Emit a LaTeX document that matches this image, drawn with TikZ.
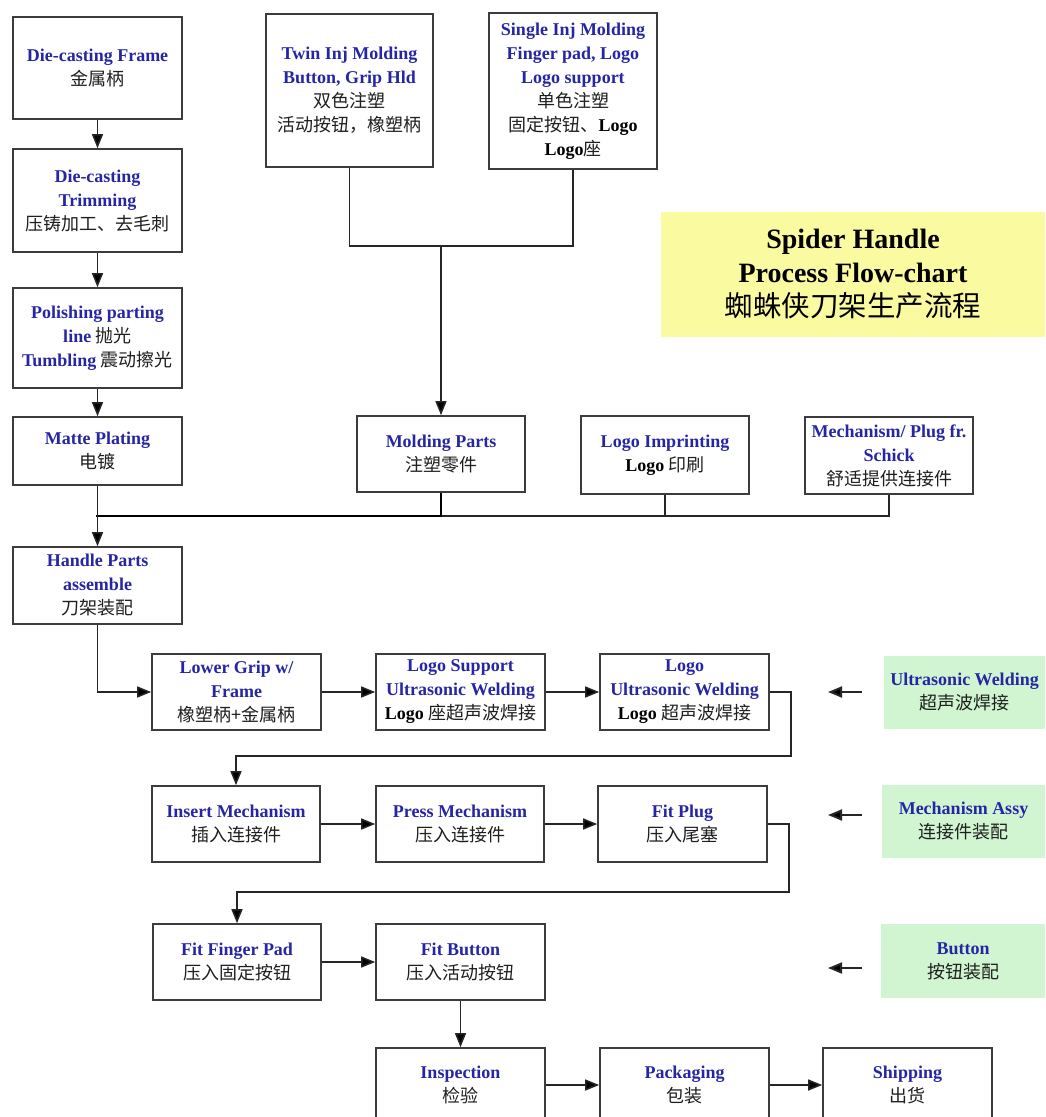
\documentclass[tikz,border=0pt]{standalone}
\usepackage{fontspec}
\setmainfont{Liberation Serif}
\newfontfamily\cjk{Noto Sans CJK SC}
\usetikzlibrary{arrows.meta}
\definecolor{eblue}{RGB}{38,38,165}
\definecolor{boxline}{RGB}{60,60,60}
\definecolor{ylw}{RGB}{250,250,160}
\definecolor{grn}{RGB}{208,245,208}
\newcommand\myen[1]{\textcolor{eblue}{\bfseries #1}}
\newcommand\myzh[1]{{\cjk\color{black!88}#1}}
\newcommand\mybk[1]{{\bfseries #1}}
\tikzset{
  box/.style={draw=boxline, line width=1.6pt, fill=white, align=center, inner sep=0pt,
    font=\fontsize{18}{24}\selectfont},
  gbox/.style={fill=grn, align=center, inner sep=0pt, font=\fontsize{18}{24}\selectfont},
  conn/.style={draw=black!85, line width=1.5pt},
  arr/.style={conn, -{Triangle[length=14pt,width=11pt,fill=black]}},
}
\begin{document}
\begin{tikzpicture}[x=1pt,y=-1pt]
\useasboundingbox (0,0) rectangle (1045,1117);
\clip (0,0) rectangle (1045,1117);
\fill[white] (0,0) rectangle (1045,1117);

% left column
\node[box, minimum width=169pt, minimum height=102pt] (dcf) at (97.5,68) {\myen{Die-casting Frame}\\\myzh{金属柄}};
\node[box, minimum width=169pt, minimum height=103pt] (dct) at (97.5,200.5) {\myen{Die-casting}\\\myen{Trimming}\\\myzh{压铸加工、去毛刺}};
\node[box, minimum width=169pt, minimum height=100pt] (pol) at (97.5,338) {\myen{Polishing parting}\\\myen{line} \myzh{抛光}\\\myen{Tumbling} \myzh{震动擦光}};
\node[box, minimum width=169pt, minimum height=68pt] (mat) at (97.5,451) {\myen{Matte Plating}\\\myzh{电镀}};

% top molding
\node[box, minimum width=167pt, minimum height=153pt] (twin) at (349.5,90.5) {\myen{Twin Inj Molding}\\\myen{Button, Grip Hld}\\\myzh{双色注塑}\\\myzh{活动按钮，橡塑柄}};
\node[box, minimum width=168pt, minimum height=156pt] (single) at (573,91) {\myen{Single Inj Molding}\\\myen{Finger pad, Logo}\\\myen{Logo support}\\\myzh{单色注塑}\\\myzh{固定按钮、}\mybk{Logo}\\\mybk{Logo}\myzh{座}};

% title
\node[fill=ylw, minimum width=384pt, minimum height=125pt, inner sep=0pt, align=center,
  font=\fontsize{28}{34}\selectfont] (title) at (853,274.5)
  {\bfseries Spider Handle\\\bfseries Process Flow-chart\\{\cjk\fontsize{28.5}{34}\selectfont 蜘蛛侠刀架生产流程}};

% parts row
\node[box, minimum width=168pt, minimum height=76pt] (mold) at (441,454) {\myen{Molding Parts}\\\myzh{注塑零件}};
\node[box, minimum width=168pt, minimum height=78pt] (logo) at (665,455) {\myen{Logo Imprinting}\\\mybk{Logo} \myzh{印刷}};
\node[box, minimum width=168pt, minimum height=77pt] (mech) at (889,455.5) {\myen{Mechanism/ Plug fr.}\\\myen{Schick}\\\myzh{舒适提供连接件}};

\node[box, minimum width=169pt, minimum height=77pt] (hand) at (97.5,585.5) {\myen{Handle Parts}\\\myen{assemble}\\\myzh{刀架装配}};

% row 1
\node[box, minimum width=169pt, minimum height=76pt] (lg) at (236.5,692) {\myen{Lower Grip w/}\\\myen{Frame}\\\myzh{橡塑柄+金属柄}};
\node[box, minimum width=169pt, minimum height=76pt] (lsu) at (460.5,692) {\myen{Logo Support}\\\myen{Ultrasonic Welding}\\\mybk{Logo} \myzh{座超声波焊接}};
\node[box, minimum width=169pt, minimum height=76pt] (luw) at (684.5,692) {\myen{Logo}\\\myen{Ultrasonic Welding}\\\mybk{Logo} \myzh{超声波焊接}};

% row 2
\node[box, minimum width=168pt, minimum height=76pt] (ins) at (236,824) {\myen{Insert Mechanism}\\\myzh{插入连接件}};
\node[box, minimum width=168pt, minimum height=76pt] (pm) at (460,824) {\myen{Press Mechanism}\\\myzh{压入连接件}};
\node[box, minimum width=169pt, minimum height=76pt] (fp) at (682.5,824) {\myen{Fit Plug}\\\myzh{压入尾塞}};

% row 3
\node[box, minimum width=168pt, minimum height=76pt] (ffp) at (237,962) {\myen{Fit Finger Pad}\\\myzh{压入固定按钮}};
\node[box, minimum width=169pt, minimum height=76pt] (fb) at (460.5,962) {\myen{Fit Button}\\\myzh{压入活动按钮}};

% row 4
\node[box, minimum width=169pt, minimum height=74pt] (insp) at (460.5,1085) {\myen{Inspection}\\\myzh{检验}};
\node[box, minimum width=169pt, minimum height=74pt] (pack) at (684.5,1085) {\myen{Packaging}\\\myzh{包装}};
\node[box, minimum width=169pt, minimum height=74pt] (ship) at (907.5,1085) {\myen{Shipping}\\\myzh{出货}};

% green side boxes
\node[gbox, minimum width=161pt, minimum height=73pt] (guw) at (964.5,692.5) {\myen{Ultrasonic Welding}\\\myzh{超声波焊接}};
\node[gbox, minimum width=163pt, minimum height=73pt] (gma) at (963.5,821.5) {\myen{Mechanism Assy}\\\myzh{连接件装配}};
\node[gbox, minimum width=164pt, minimum height=74pt] (gbt) at (963,961) {\myen{Button}\\\myzh{按钮装配}};

% connectors: left column
\draw[arr] (dcf) -- (dct);
\draw[arr] (dct) -- (pol);
\draw[arr] (pol) -- (mat);

% molding merge
\coordinate (j) at (441,246);
\draw[conn] (twin.south) |- (j);
\draw[conn] (single.south) |- (j);
\draw[arr] (j) -- (mold.north);

% bus
\coordinate (bus) at (97.5,516);
\draw[conn] (logo.south) |- (bus);
\draw[conn] (mech.south) |- (bus);
\draw[conn, line width=2.8pt, draw=black] (mold.south) |- ([xshift=-1.4pt]bus);
\draw[arr] (mat.south) -- (hand.north);

% flow
\draw[arr] (hand.south) |- (lg.west);
\draw[arr] (lg) -- (lsu);
\draw[arr] (lsu) -- (luw);
\draw[arr] (luw.east) -- ++(21,0) -- ++(0,64) -| (ins.north);
\draw[arr] (ins) -- (pm);
\draw[arr] (pm) -- (fp);
\draw[arr] (fp.east) -- ++(21,0) -- ++(0,68) -| (ffp.north);
\draw[arr] (ffp) -- (fb);
\draw[arr] (fb) -- (insp);
\draw[arr] (insp) -- (pack);
\draw[arr] (pack) -- (ship);

% side arrows
\coordinate (a1s) at (862,692); \coordinate (a1e) at (828,692);
\coordinate (a2s) at (862,815); \coordinate (a2e) at (828,815);
\coordinate (a3s) at (862,968); \coordinate (a3e) at (828,968);
\draw[arr, line width=2pt] (a1s) -- (a1e);
\draw[arr, line width=2pt] (a2s) -- (a2e);
\draw[arr, line width=2pt] (a3s) -- (a3e);
\end{tikzpicture}
\end{document}
